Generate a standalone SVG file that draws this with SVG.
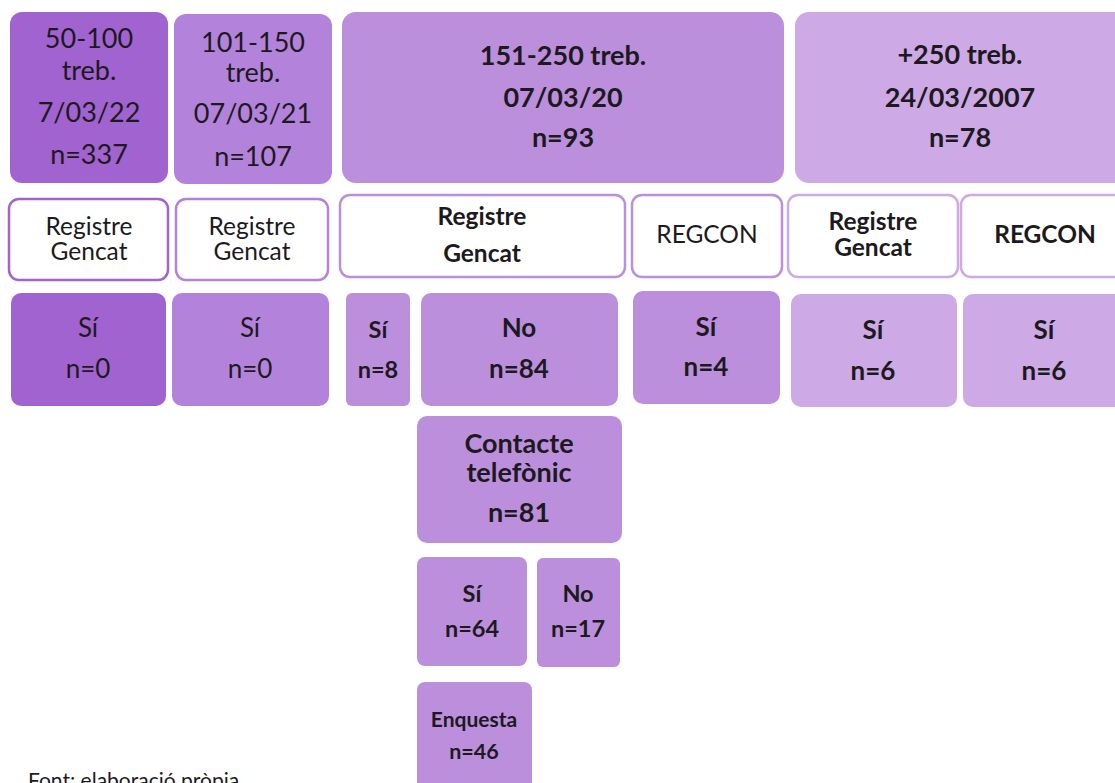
<svg xmlns="http://www.w3.org/2000/svg" width="1115" height="783" viewBox="0 0 1115 783">
<style>
text{font-family:Lato,"Noto Sans",sans-serif;fill:#1c1a1e;text-anchor:middle}
.b{font-weight:bold}
.c1{fill:#a163cf}.c2{fill:#b383db}.c3{fill:#bc8fdd}.c4{fill:#cda9e5}
.w{fill:#fff;stroke-width:2.5}
.s1{stroke:#a163cf}.s2{stroke:#b383db}.s3{stroke:#bc8fdd}.s4{stroke:#cda9e5}
.t1{font-size:27px}.t2{font-size:24.5px}.t3{font-size:26px}.t4{font-size:23.5px}
</style>
<rect width="1115" height="783" fill="#fff"/>
<g id="n-50-100"><rect class="c1" x="10" y="12" width="158" height="171" rx="12"/>
<text class="t1" x="89" y="48">50-100</text><text class="t1" x="89" y="80">treb.</text><text class="t1" x="89" y="122">7/03/22</text><text class="t1" x="89" y="164">n=337</text></g>
<g id="n-101-150"><rect class="c2" x="174" y="14" width="158" height="170" rx="12"/>
<text class="t1" x="253" y="52">101-150</text><text class="t1" x="253" y="82">treb.</text><text class="t1" x="253" y="123">07/03/21</text><text class="t1" x="253" y="166">n=107</text></g>
<g id="n-151-250"><rect class="c3" x="342" y="12" width="442" height="171" rx="14"/>
<text class="t1 b" x="563" y="65">151-250 treb.</text><text class="t1 b" x="563" y="107">07/03/20</text><text class="t1 b" x="563" y="147">n=93</text></g>
<g id="n-250"><rect class="c4" x="795" y="12" width="340" height="171" rx="14"/>
<text class="t1 b" x="960" y="64">+250 treb.</text><text class="t1 b" x="960" y="107">24/03/2007</text><text class="t1 b" x="960" y="147">n=78</text></g>

<g id="r-a"><rect class="w s1" x="9" y="199" width="159" height="81" rx="10"/>
<text class="t2" x="89" y="235">Registre</text><text class="t2" x="89" y="260">Gencat</text></g>
<g id="r-b"><rect class="w s2" x="176" y="199" width="152" height="81" rx="10"/>
<text class="t2" x="252" y="235">Registre</text><text class="t2" x="252" y="260">Gencat</text></g>
<g id="r-c"><rect class="w s3" x="340" y="195" width="285" height="82" rx="10"/>
<text class="t2 b" x="482" y="225">Registre</text><text class="t2 b" x="482" y="262">Gencat</text></g>
<g id="r-d"><rect class="w s3" x="632" y="195" width="150" height="82" rx="10"/>
<text class="t2" x="707" y="243">REGCON</text></g>
<g id="r-e"><rect class="w s4" x="788" y="195" width="170" height="82" rx="10"/>
<text class="t2 b" x="873" y="230">Registre</text><text class="t2 b" x="873" y="256">Gencat</text></g>
<g id="r-f"><rect class="w s4" x="961" y="195" width="180" height="82" rx="10"/>
<text class="t2 b" x="1045" y="243">REGCON</text></g>

<g id="a-si"><rect class="c1" x="11" y="293" width="155" height="113" rx="10"/>
<text class="t3" x="88" y="337">Sí</text><text class="t3" x="88" y="378">n=0</text></g>
<g id="b-si"><rect class="c2" x="172" y="293" width="157" height="113" rx="10"/>
<text class="t3" x="250" y="337">Sí</text><text class="t3" x="250" y="378">n=0</text></g>
<g id="c-si"><rect class="c3" x="346" y="293" width="64" height="113" rx="6"/>
<text class="t4 b" x="378" y="338">Sí</text><text class="t4 b" x="378" y="378">n=8</text></g>
<g id="c-no"><rect class="c3" x="421" y="293" width="197" height="113" rx="10"/>
<text class="t3 b" x="519" y="337">No</text><text class="t3 b" x="519" y="378">n=84</text></g>
<g id="d-si"><rect class="c3" x="633" y="291" width="147" height="113" rx="10"/>
<text class="t3 b" x="706" y="336">Sí</text><text class="t3 b" x="706" y="376">n=4</text></g>
<g id="e-si"><rect class="c4" x="791" y="294" width="166" height="113" rx="10"/>
<text class="t3 b" x="873" y="339">Sí</text><text class="t3 b" x="873" y="380">n=6</text></g>
<g id="f-si"><rect class="c4" x="963" y="294" width="170" height="113" rx="10"/>
<text class="t3 b" x="1044" y="339">Sí</text><text class="t3 b" x="1044" y="380">n=6</text></g>

<g id="contacte"><rect class="c3" x="417" y="416" width="205" height="127" rx="10"/>
<text class="b" style="font-size:27px" x="519" y="453">Contacte</text><text class="b" style="font-size:27px" x="519" y="482">telefònic</text><text class="b" style="font-size:27px" x="519" y="522">n=81</text></g>
<g id="ct-si"><rect class="c3" x="417" y="557" width="110" height="109" rx="8"/>
<text class="t4 b" x="472" y="602">Sí</text><text class="t4 b" x="472" y="637">n=64</text></g>
<g id="ct-no"><rect class="c3" x="537" y="558" width="83" height="109" rx="6"/>
<text class="t4 b" x="578" y="602">No</text><text class="t4 b" x="578" y="637">n=17</text></g>
<g id="enquesta"><rect class="c3" x="417" y="682" width="115" height="120" rx="8"/>
<text class="b" style="font-size:21px" x="474" y="727">Enquesta</text><text class="b" style="font-size:21.5px" x="474" y="759">n=46</text></g>
<g id="connectors"></g>
<text x="28" y="788" style="font-size:21px;text-anchor:start">Font: elaboració pròpia</text>
</svg>
